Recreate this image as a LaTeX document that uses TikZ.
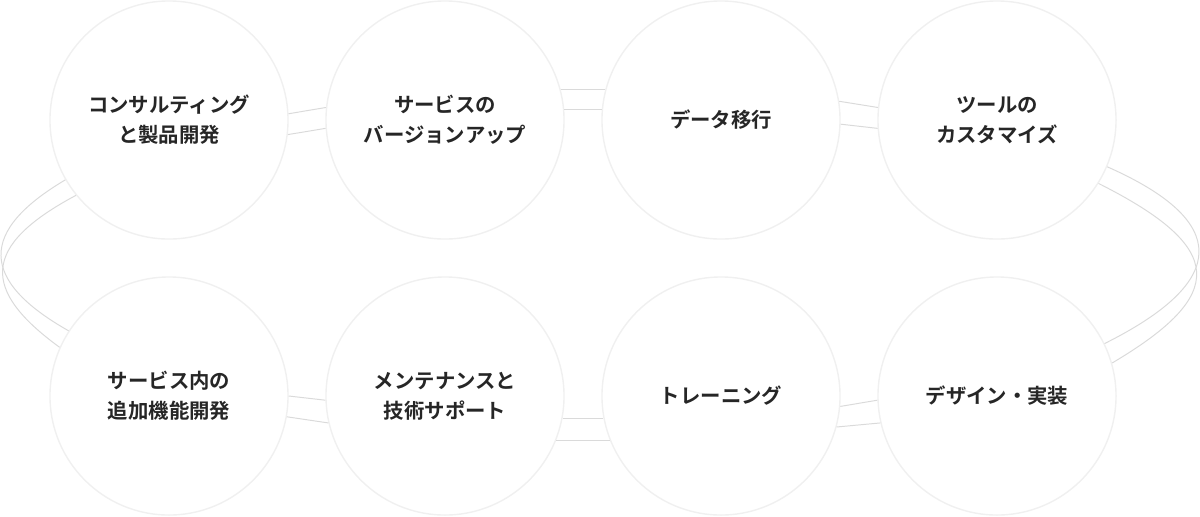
\documentclass[tikz,border=0pt]{standalone}
\usepackage{fontspec}
\newfontfamily\jp{Noto Sans CJK JP Bold}
\usetikzlibrary{calc}

\definecolor{ringgray}{HTML}{F0F0F0}
\definecolor{bandgray}{HTML}{DADADA}
\definecolor{textgray}{HTML}{262626}

\begin{document}
\begin{tikzpicture}[x=0.025cm, y=-0.025cm]
  \tikzset{service/.style = {shape=circle, draw=ringgray, line width=1pt, fill=white,
      minimum size=5.95cm, inner sep=0pt, align=center, text=textgray,
      font=\jp\fontsize{14.5}{21.5}\selectfont}}
  \tikzset{band/.style = {-, draw=bandgray, line width=0.7pt}}

  \useasboundingbox (0,0) rectangle (1200,516);

  \node[service] (c1) at (169, 120) {コンサルティング\\と製品開発};
  \node[service] (c2) at (445, 120) {サービスの\\バージョンアップ};
  \node[service] (c3) at (721, 120) {データ移行};
  \node[service] (c4) at (997, 120) {ツールの\\カスタマイズ};
  \node[service] (c5) at (169, 396) {サービス内の\\追加機能開発};
  \node[service] (c6) at (445, 396) {メンテナンスと\\技術サポート};
  \node[service] (c7) at (721, 396) {トレーニング};
  \node[service] (c8) at (997, 396) {デザイン・実装};

  % top row
  \draw[band] (c1.3) to (c2.174);
  \draw[band] (c1.-7) to (c2.184);
  \draw[band] (c2.15) to (c3.165);
  \draw[band] (c2.5) to (c3.175);
  \draw[band] (c3.9) to (c4.174);
  \draw[band] (c3.-2) to (c4.184);

  % bottom row
  \draw[band] (c5.0) to (c6.182);
  \draw[band] (c5.-10) to (c6.193);
  \draw[band] (c6.-11) to (c7.191);
  \draw[band] (c6.-22) to (c7.202);
  \draw[band] (c7.-5) to (c8.182);
  \draw[band] (c7.-15) to (c8.193);

  % loops at both ends
  \draw[band] (c1.210) .. controls (-21, 231) and (-21, 280) .. (c5.147);
  \draw[band] (c1.219) .. controls (-19, 246) and (-19, 290) .. (c5.156);
  \draw[band] (c4.-23) .. controls (1230, 221) and (1230, 281) .. (c8.26);
  \draw[band] (c4.-32) .. controls (1227, 248) and (1227, 295) .. (c8.16);
\end{tikzpicture}
\end{document}
